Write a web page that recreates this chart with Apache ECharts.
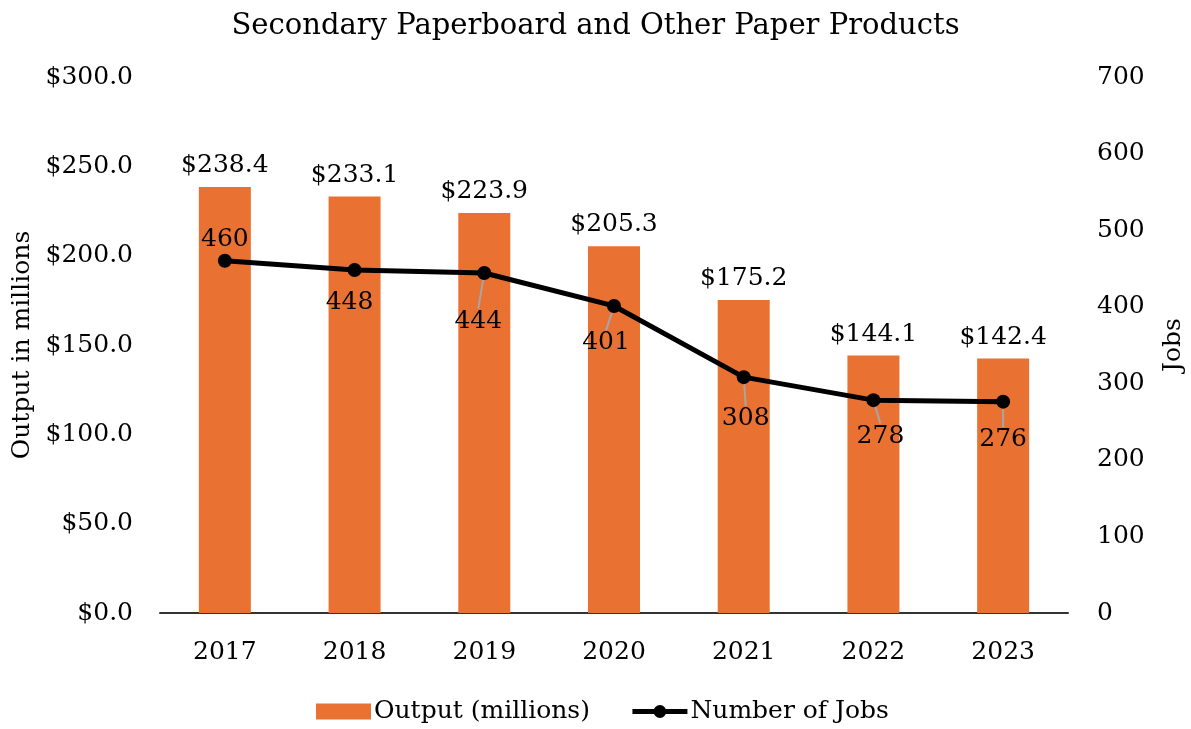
<!DOCTYPE html>
<html><head><meta charset="utf-8">
<script src="https://cdn.jsdelivr.net/npm/echarts@6/dist/echarts.min.js"></script>
<style>html,body{margin:0;padding:0;background:#fff}#c{width:1191px;height:729px}</style>
</head><body><div id="c"></div>
<script>
const categories = ['2017','2018','2019','2020','2021','2022','2023'];
const outputMillions = [238.4, 233.1, 223.9, 205.3, 175.2, 144.1, 142.4];
const jobs = [460, 448, 444, 401, 308, 278, 276];
const leftTicks = {min: 0, max: 300, interval: 50};
const rightTicks = {min: 0, max: 700, interval: 100};
// label offsets for the jobs labels (style only)
const jobLabelShift = [[0,-21],[-5,33],[-6,48],[-8,37],[2,41],[7,36],[0,38]];
const jobLeader = [false, false, true, true, true, true, true];

const FONT = 'DejaVu Serif';
const FS = 25;
const chart = echarts.init(document.getElementById('c'));
chart.setOption({
  animation: false,
  textStyle: {fontFamily: FONT, color: '#000'},
  title: {text: 'Secondary Paperboard and Other Paper Products', left: 'center', top: 7,
    textStyle: {fontFamily: FONT, fontSize: 29, fontWeight: 'normal', color: '#000'}},
  grid: {left: 160, right: 123, top: 77, bottom: 116, outerBoundsMode: 'none', containLabel: false},
  legend: {bottom: 0, left: 311, itemGap: 40, itemWidth: 55, itemHeight: 16,
    textStyle: {fontFamily: FONT, fontSize: FS, color: '#000', padding: [0,0,0,-2]},
    data: [{name: 'Output (millions)', icon: 'rect'},
           {name: 'Number of Jobs', lineStyle: {width: 5, color: '#000'}, itemStyle: {color: '#000'}}]},
  xAxis: {type: 'category', data: categories,
    axisLine: {lineStyle: {color: '#333', width: 2}}, axisTick: {show: false},
    axisLabel: {fontFamily: FONT, fontSize: FS, color: '#000', margin: 27}},
  yAxis: [
    {type: 'value', min: leftTicks.min, max: leftTicks.max, interval: leftTicks.interval,
     name: 'Output in millions', nameLocation: 'middle', nameGap: 118, nameRotate: 90,
     nameTextStyle: {fontFamily: FONT, fontSize: FS, color: '#000'},
     splitLine: {show: false}, axisLine: {show: false}, axisTick: {show: false},
     axisLabel: {fontFamily: FONT, fontSize: FS, color: '#000', margin: 27,
       formatter: v => '$' + v.toFixed(1)}},
    {type: 'value', min: rightTicks.min, max: rightTicks.max, interval: rightTicks.interval,
     name: 'Jobs', nameLocation: 'middle', nameGap: 93, nameRotate: 90,
     nameTextStyle: {fontFamily: FONT, fontSize: FS, color: '#000'},
     splitLine: {show: false}, axisLine: {show: false}, axisTick: {show: false},
     axisLabel: {fontFamily: FONT, fontSize: FS, color: '#000', margin: 29}}
  ],
  series: [
    {name: 'Output (millions)', type: 'bar', yAxisIndex: 0, data: outputMillions,
     barWidth: 52, itemStyle: {color: '#E97132'},
     label: {show: true, position: 'top', distance: 9, fontFamily: FONT, fontSize: FS, color: '#000',
       formatter: p => '$' + p.value.toFixed(1)}},
    {name: 'Number of Jobs', type: 'line', yAxisIndex: 1,
     data: jobs.map((v, i) => ({value: v, labelLine: {show: jobLeader[i]}})),
     symbol: 'circle', symbolSize: 14, z: 5,
     lineStyle: {color: '#000', width: 5}, itemStyle: {color: '#000'},
     label: {show: true, position: 'inside', fontFamily: FONT, fontSize: FS, color: '#000'},
     labelLine: {show: true, lineStyle: {color: '#A6A6A6', width: 2}},
     labelLayout: p => ({dx: jobLabelShift[p.dataIndex][0], dy: jobLabelShift[p.dataIndex][1]})}
  ]
});
</script></body></html>
